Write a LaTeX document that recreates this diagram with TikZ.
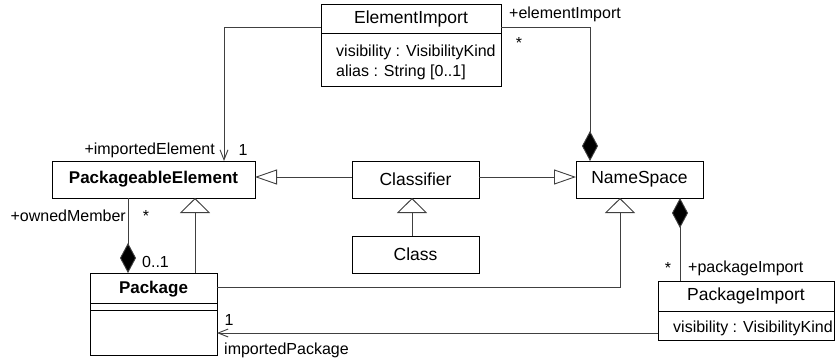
\documentclass[tikz,border=0pt]{standalone}
\usepackage{fontspec}
\setmainfont{Liberation Sans}
\usetikzlibrary{arrows.meta,calc}
\begin{document}
\begin{tikzpicture}[x=1pt,y=-1pt,
  box/.style={draw=black,line width=0.9pt,inner sep=0pt,outer sep=0pt},
  nm/.style={font=\fontsize{17.5}{20}\selectfont},
  bnm/.style={font=\fontsize{17}{20}\selectfont\bfseries},
  lbl/.style={font=\fontsize{16}{19}\selectfont,inner sep=0pt},
  conn/.style={draw=black!75,line width=0.9pt},
  genv/.style={conn,-{Triangle[open,length=15pt,width=30pt,fill=white]}},
  genh/.style={conn,-{Triangle[open,length=22pt,width=15pt,fill=white]}},
  compo/.style={conn,-{Diamond[length=30pt,width=16pt,fill=black]}},
  navi/.style={conn,-{Straight Barb[length=10pt,width=8pt]}}
]
\useasboundingbox (0,0) rectangle (835,360);
% boxes
\node[box,minimum width=180pt,minimum height=82pt] (ei) at (411,45) {};
\node[nm] (eit) at (411,18.5) {ElementImport};
\draw[box] (ei.north west) ++(0,29) coordinate (eih) -- ++(180,0);
\node[lbl,anchor=west] (eia1) at (336,52) {visibility : VisibilityKind};
\node[lbl,anchor=west] (eia2) at (336,72) {alias : String [0..1]};

\node[box,minimum width=203pt,minimum height=37pt] (pe) at (153.5,179.5) {};
\node[bnm] (pet) at (pe.center) {PackageableElement};

\node[box,minimum width=127pt,minimum height=37pt,nm] (cls) at (415.5,179.5) {Classifier};
\node[box,minimum width=127pt,minimum height=37pt,nm] (cl) at (415.5,254.5) {Class};
\node[box,minimum width=127pt,minimum height=37pt,nm] (ns) at (639.5,179.5) {NameSpace};

\node[box,minimum width=127pt,minimum height=82pt] (pkg) at (153.5,314) {};
\node[bnm] (pkgt) at (153.5,289) {Package};
\draw[box] (pkg.north west) ++(0,30) -- ++(127,0);
\draw[box] (pkg.north west) ++(0,37) -- ++(127,0);

\node[box,minimum width=176pt,minimum height=59pt] (pi) at (746,310.5) {};
\node[nm] (pit) at (746,296) {PackageImport};
\draw[box] (pi.north west) ++(0,30) -- ++(176,0);
\node[lbl,anchor=west] (pia) at (673,328) {visibility : VisibilityKind};

% connectors
\draw[navi] ($(ei.north west)+(0,23)$) -| ($(pe.north west)+(172,0)$);
\draw[compo] ($(ei.north east)+(0,23)$) -| ($(ns.north west)+(14,0)$);
\draw[genh] ([yshift=2.5pt]cls.west) -- ([yshift=2.5pt]pe.east);
\draw[genh] ([yshift=2.5pt]cls.east) -- ([yshift=2.5pt]ns.west);
\draw[genv] ([xshift=-3.5pt]cl.north) -- ([xshift=-3.5pt]cls.south);
\draw[genv] ($(pkg.north west)+(105,0)$) -- ($(pe.south west)+(143,0)$);
\draw[compo] ($(pe.south west)+(76,0)$) -- ($(pkg.north west)+(38,0)$);
\draw[genv] ($(pkg.north east)+(0,14)$) -| ($(ns.south west)+(44,0)$);
\draw[compo] ($(pi.north west)+(22,0)$) -- ($(ns.south west)+(104,0)$);
\draw[navi] ($(pi.north west)+(0,52)$) -- ($(pkg.north east)+(0,60)$);

% labels
\node[lbl,anchor=west] (l1) at (509,14) {+elementImport};
\node[lbl] (l2) at (519,43) {*};
\node[lbl,anchor=east] (l3) at (215,150) {+importedElement};
\node[lbl] (l4) at (243,150) {1};
\node[lbl,anchor=east] (l5) at (126,216) {+ownedMember};
\node[lbl] (l6) at (146,216) {*};
\node[lbl,anchor=west] (l7) at (142,262) {0..1};
\node[lbl] (l8) at (668,268) {*};
\node[lbl,anchor=west] (l9) at (688,268) {+packageImport};
\node[lbl] (l10) at (229,320) {1};
\node[lbl,anchor=west] (l11) at (224,350) {importedPackage};
\end{tikzpicture}
\end{document}
